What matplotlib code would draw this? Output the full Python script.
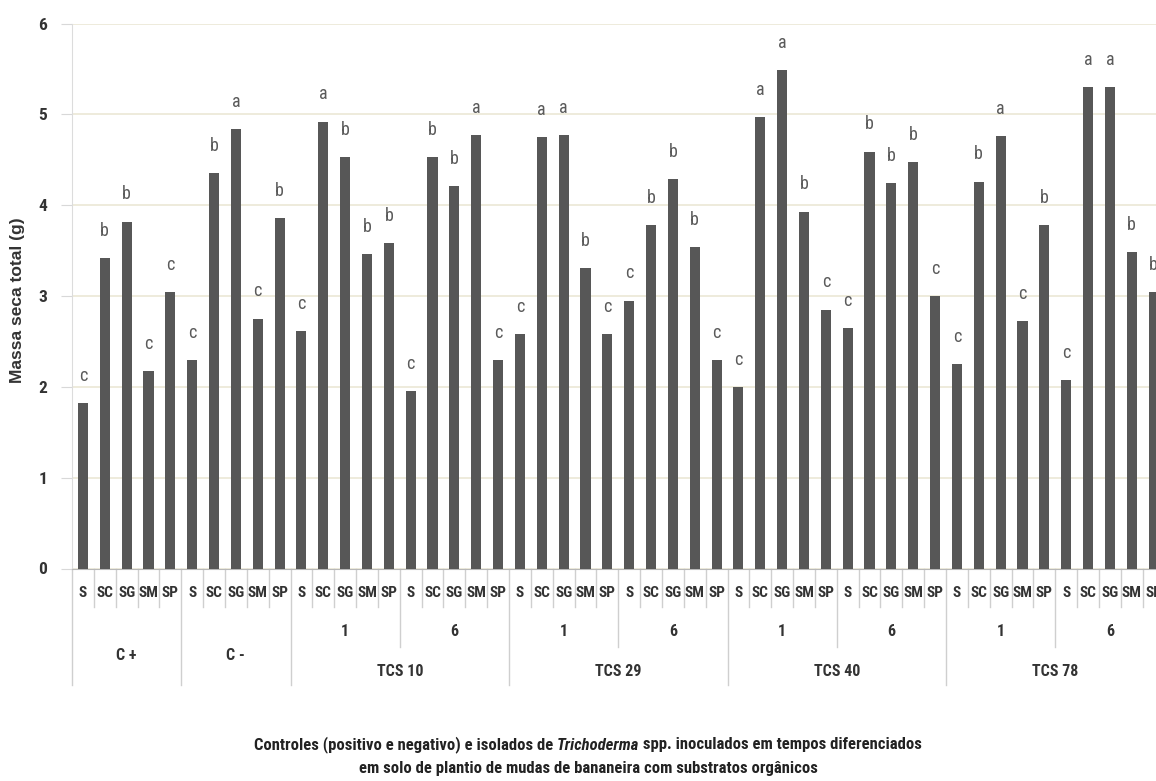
import matplotlib
matplotlib.use("Agg")
import matplotlib.pyplot as plt
from matplotlib.lines import Line2D
from matplotlib import font_manager
import numpy as np

# ---- data ----
substrates = ["S", "SC", "SG", "SM", "SP"]
groups = ["C +", "C -", "TCS 10", "TCS 29", "TCS 40", "TCS 78"]
times = ["1", "6"]

vals_cpos = [1.82, 3.42, 3.82, 2.17, 3.04]
vals_cneg = [2.29, 4.35, 4.84, 2.75, 3.86]
vals_tcs10_1 = [2.61, 4.92, 4.53, 3.46, 3.58]
vals_tcs10_6 = [1.95, 4.53, 4.21, 4.77, 2.29]
vals_tcs29_1 = [2.58, 4.75, 4.77, 3.31, 2.58]
vals_tcs29_6 = [2.95, 3.78, 4.29, 3.54, 2.29]
vals_tcs40_1 = [2.00, 4.97, 5.49, 3.93, 2.85]
vals_tcs40_6 = [2.65, 4.59, 4.24, 4.47, 3.00]
vals_tcs78_1 = [2.25, 4.26, 4.76, 2.72, 3.78]
vals_tcs78_6 = [2.07, 5.30, 5.30, 3.48, 3.04]

let_cpos = ["c", "b", "b", "c", "c"]
let_cneg = ["c", "b", "a", "c", "b"]
let_tcs10_1 = ["c", "a", "b", "b", "b"]
let_tcs10_6 = ["c", "b", "b", "a", "c"]
let_tcs29_1 = ["c", "a", "a", "b", "c"]
let_tcs29_6 = ["c", "b", "b", "b", "c"]
let_tcs40_1 = ["c", "a", "a", "b", "c"]
let_tcs40_6 = ["c", "b", "b", "b", "c"]
let_tcs78_1 = ["c", "b", "a", "c", "b"]
let_tcs78_6 = ["c", "a", "a", "b", "b"]

values = (vals_cpos + vals_cneg + vals_tcs10_1 + vals_tcs10_6 + vals_tcs29_1 +
          vals_tcs29_6 + vals_tcs40_1 + vals_tcs40_6 + vals_tcs78_1 + vals_tcs78_6)
letters = (let_cpos + let_cneg + let_tcs10_1 + let_tcs10_6 + let_tcs29_1 +
           let_tcs29_6 + let_tcs40_1 + let_tcs40_6 + let_tcs78_1 + let_tcs78_6)

ylabel = "Massa seca total (g)"
xl_a = "Controles (positivo e negativo) e isolados de "
xl_b = "Trichoderma"
xl_c = " spp. inoculados em tempos diferenciados"
xl_2 = "em solo de plantio de mudas de bananeira com substratos orgânicos"

# pick a narrow font if one is installed
_names = {f.name for f in font_manager.fontManager.ttflist}
_dv_cond = any(f.name == "DejaVu Sans" and f.stretch == "condensed"
               for f in font_manager.fontManager.ttflist)
if "Liberation Sans Narrow" in _names:
    NARROW = dict(family=["Liberation Sans Narrow", "DejaVu Sans"])
elif "Arial Narrow" in _names:
    NARROW = dict(family=["Arial Narrow", "DejaVu Sans"])
elif "Roboto Condensed" in _names:
    NARROW = dict(family=["Roboto Condensed", "DejaVu Sans"])
elif _dv_cond:
    NARROW = dict(family=["DejaVu Sans"], fontstretch="condensed")
else:
    NARROW = dict(family=["Liberation Sans", "DejaVu Sans"])
SANS = ["Liberation Sans", "DejaVu Sans"]

W, H = 1156, 781
fig = plt.figure(figsize=(W / 100, H / 100), dpi=100)
fig.patch.set_facecolor("white")

ax_left, ax_right, ax_bot, ax_top = 72, 1164.5, 568.5, 23.5
ax = fig.add_axes([ax_left / W, 1 - ax_bot / H, (ax_right - ax_left) / W,
                   (ax_bot - ax_top) / H])
ax_h_px = ax_bot - ax_top
ax_w_px = ax_right - ax_left

n = len(values)
x = np.arange(n)
ax.bar(x, values, width=0.46, color="#575757", zorder=3)

for xi, v, l in zip(x, values, letters):
    ax.text(xi, v + 0.3, l, ha="center", va="center", fontsize=13,
            color="#5a5a5a", zorder=4, **NARROW)

ax.set_xlim(-0.5, n - 0.5)
ax.set_ylim(0, 6)
ax.set_yticks(range(0, 7))
ax.set_yticklabels([str(i) for i in range(7)], fontsize=12.5,
                   fontweight="bold", color="#333333", **NARROW)
ax.tick_params(axis="y", length=8, color="#d8d8d8", pad=10)
ax.set_xticks([])
ax.grid(axis="y", color="#ebe8d5", linewidth=1.2, zorder=0)
for s in ["top", "right"]:
    ax.spines[s].set_visible(False)
ax.spines["left"].set_color("#dcdcdc")
ax.spines["bottom"].set_color("#b8b8b8")
ax.set_ylabel(ylabel, fontsize=12.5, fontweight="bold", family=SANS,
              color="#333333", va="center")
ax.yaxis.set_label_coords((18 - ax_left) / ax_w_px, 1 - (300 - ax_top) / ax_h_px)

trans = ax.get_xaxis_transform()


def fy(px):
    return -px / ax_h_px


sep_col = "#cfcfcf"
lab_kw = dict(ha="center", va="center", fontweight="bold", color="#333333",
              transform=trans, clip_on=False, **NARROW)
# level-1 labels
for i in range(n):
    ax.text(i, fy(24.5), substrates[i % 5], fontsize=11, **lab_kw)
# separators
for b in range(n + 1):
    xb = b - 0.5
    if b % 5 != 0:
        length = 38.5
    elif b in (0, 5, 10, 20, 30, 40, 50):
        length = 116.5
    else:
        length = 78.5
    ax.add_line(Line2D([xb, xb], [0, fy(length)], transform=trans,
                       color=sep_col, linewidth=1, clip_on=False))

# group labels
ax.text(2, fy(87.5), groups[0], fontsize=11.5, **lab_kw)
ax.text(7, fy(87.5), groups[1], fontsize=11.5, **lab_kw)
for gi, g in enumerate(groups[2:]):
    start = 10 + gi * 10
    for ti, t in enumerate(times):
        ax.text(start + ti * 5 + 2, fy(63.5), t, fontsize=11.5, **lab_kw)
    ax.text(start + 4.5, fy(103.5), g, fontsize=11.5, **lab_kw)

# x label (two lines, with italic genus)
fig.canvas.draw()
r = fig.canvas.get_renderer()
y1 = 1 - 745 / H
y2 = 1 - 768 / H
kw = dict(fontsize=12, fontweight="bold", color="#222222", va="center",
          **NARROW)
ta = fig.text(0, y1, xl_a, ha="left", **kw)
tb = fig.text(0, y1, xl_b, ha="left", style="italic", **kw)
tc = fig.text(0, y1, xl_c, ha="left", **kw)
wa = ta.get_window_extent(r).width
wb = tb.get_window_extent(r).width
wc = tc.get_window_extent(r).width
total = wa + wb + wc
cx = 588
x0 = cx - total / 2
ta.set_x(x0 / W)
tb.set_x((x0 + wa) / W)
tc.set_x((x0 + wa + wb) / W)
fig.text(cx / W, y2, xl_2, ha="center", **kw)

fig.savefig("out.png", dpi=100, facecolor="white")
